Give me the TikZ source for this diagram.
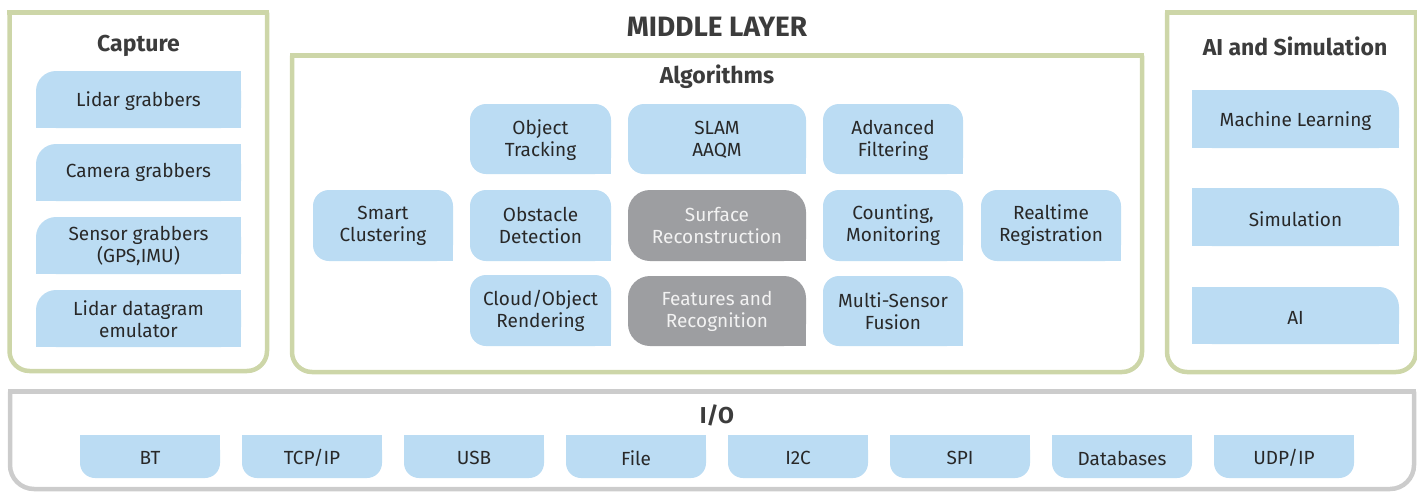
\documentclass[tikz,border=0pt]{standalone}
\usepackage{fontspec}
\setmainfont{Fira Sans}
\definecolor{frameolive}{RGB}{205,214,168}
\definecolor{framegray}{RGB}{204,204,204}
\definecolor{boxblue}{RGB}{187,220,243}
\definecolor{boxgray}{RGB}{157,158,161}
\definecolor{txtdark}{RGB}{40,40,40}
\definecolor{txtlight}{RGB}{242,242,242}
\definecolor{ttldark}{RGB}{60,60,60}
\tikzset{
  lbl/.style={font=\fontsize{9.5}{11}\selectfont, text=txtdark, align=center, inner sep=0pt},
  glbl/.style={lbl, text=txtlight},
  ttl/.style={font=\fontsize{11.5}{13}\selectfont\bfseries, text=ttldark, inner sep=0pt},
  bigttl/.style={font=\fontsize{14}{16}\selectfont\bfseries, text=ttldark, inner sep=0pt},
}
% frame: x1 y1 x2 y2 colour radius
\newcommand\myframe[6]{%
  \draw[draw=#5, line width=2.25pt, rounded corners=#6] (#1,#2) -- (#1,#4) -- (#3,#4) -- (#3,#2);
  \draw[draw=#5, line width=2.25pt, line cap=rect] (#1,#2) -- (#3,#2);
}
% capture box: only top-left rounded
\newcommand\capbox[2]{%
  \fill[boxblue, rounded corners=10pt] (36,#1) rectangle (241,#2);
  \fill[boxblue] (56,#1) rectangle (241,#2);
  \fill[boxblue] (36,#1+20) rectangle (241,#2);
}
% algorithm box: bottom-right square; #6 radius in px
\newcommand\algbox[6]{%
  \fill[#5, rounded corners=#6*0.5pt] (#1,#2) rectangle (#3,#4);
  \fill[#5] (#3-#6,#4-#6) rectangle (#3,#4);
}
% AI box: only top-right rounded
\newcommand\aibox[2]{%
  \fill[boxblue, rounded corners=10pt] (1192,#1) rectangle (1399,#2);
  \fill[boxblue] (1192,#1) rectangle (1379,#2);
  \fill[boxblue] (1192,#1+20) rectangle (1399,#2);
}
% IO box: bottom corners rounded
\newcommand\iobox[1]{%
  \fill[boxblue, rounded corners=7.5pt] (#1,435) rectangle (#1+140,478);
  \fill[boxblue] (#1,435) rectangle (#1+140,455);
}
\begin{document}
\begin{tikzpicture}[x=0.5pt, y=-0.5pt]
\useasboundingbox (0,0) rectangle (1417,493);

% frames
\myframe{9.5}{12.5}{267}{371}{frameolive}{10pt}
\myframe{292}{55.5}{1142}{372}{frameolive}{10pt}
\myframe{1167}{12.5}{1416}{372}{frameolive}{10pt}
\myframe{10}{391.5}{1414}{489}{framegray}{12pt}

% titles
\node[bigttl] (middle) at (717,27) {MIDDLE LAYER};
\node[ttl] (capture) at (138.5,46) {Capture};
\node[ttl] (algos) at (717,77) {Algorithms};
\node[ttl] (aisim) at (1295,46) {AI and Simulation};
\node[ttl] (io) at (717,415) {I/O};

% capture
\capbox{71}{128}
\capbox{144}{201}
\capbox{217}{274}
\capbox{290}{347}
\node[lbl] (lidar) at (138.5,101) {Lidar grabbers};
\node[lbl] (camera) at (138.5,172.5) {Camera grabbers};
\node[lbl] (sensor) at (138.5,246) {Sensor grabbers\\(GPS,IMU)};
\node[lbl] (emul) at (138.5,319) {Lidar datagram\\emulator};

% algorithms
\algbox{313}{190}{453}{261}{boxblue}{16}
\algbox{470}{104}{611}{174}{boxblue}{16}
\algbox{470}{190}{611}{261}{boxblue}{16}
\algbox{470}{275}{611}{346}{boxblue}{16}
\algbox{628}{104}{806}{174}{boxblue}{16}
\algbox{628}{190}{806}{261}{boxgray}{22}
\algbox{628}{276}{806}{346}{boxgray}{22}
\algbox{823}{104}{963}{174}{boxblue}{16}
\algbox{823}{190}{963}{261}{boxblue}{16}
\algbox{823}{276}{963}{346}{boxblue}{16}
\algbox{981}{190}{1121}{261}{boxblue}{16}
\node[lbl] (smart) at (383,226) {Smart\\Clustering};
\node[lbl] (track) at (540.5,140) {Object\\Tracking};
\node[lbl] (obst) at (540.5,225.5) {Obstacle\\Detection};
\node[lbl] (render) at (540.5,311) {Cloud/Object\\Rendering};
\node[lbl] (slam) at (717,140) {SLAM\\AAQM};
\node[glbl] (surf) at (717,225) {Surface\\Reconstruction};
\node[glbl] (feat) at (717,311) {Features and\\Recognition};
\node[lbl] (filt) at (893,140) {Advanced\\Filtering};
\node[lbl] (count) at (893,225.5) {Counting,\\Monitoring};
\node[lbl] (fusion) at (893,311) {Multi-Sensor\\Fusion};
\node[lbl] (regis) at (1051,225.5) {Realtime\\Registration};

% AI and simulation
\aibox{90}{148}
\aibox{188}{246}
\aibox{287}{344}
\node[lbl] (ml) at (1295.5,121) {Machine Learning};
\node[lbl] (sim) at (1295.5,219) {Simulation};
\node[lbl] (ai) at (1295.5,317.5) {AI};

% I/O
\iobox{80}
\iobox{242}
\iobox{404}
\iobox{566}
\iobox{728}
\iobox{890}
\iobox{1052}
\iobox{1214}
\node[lbl] (bt) at (150,458) {BT};
\node[lbl] (tcp) at (312,458) {TCP/IP};
\node[lbl] (usb) at (474,458) {USB};
\node[lbl] (file) at (636,458) {File};
\node[lbl] (i2c) at (798,458) {I2C};
\node[lbl] (spi) at (960,458) {SPI};
\node[lbl] (db) at (1122,458) {Databases};
\node[lbl] (udp) at (1284,458) {UDP/IP};
\end{tikzpicture}
\end{document}
